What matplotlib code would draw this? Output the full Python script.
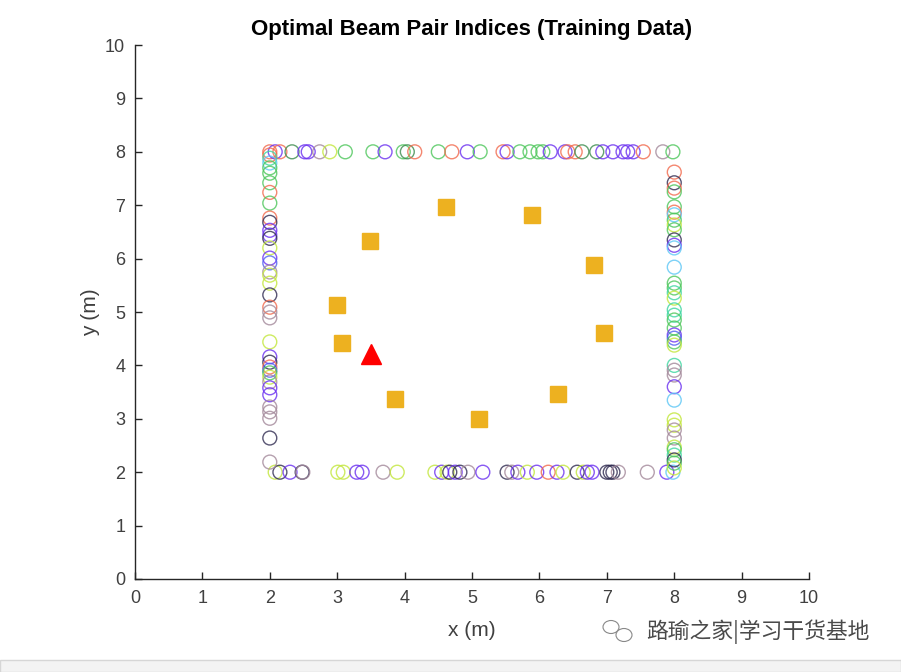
import matplotlib
matplotlib.use("Agg")
import matplotlib.pyplot as plt
from matplotlib.patches import Rectangle, Ellipse

plt.rcParams['font.family'] = ['Liberation Sans', 'DejaVu Sans']

palette = {
    'red': '#f2694c', 'purple': '#6a2ff0', 'green': '#4cc65a', 'dkgreen': '#3b8b4d',
    'mauve': '#a3889a', 'yellow': '#c2e63a', 'navy': '#2f2a50', 'ltblue': '#5cc6f5',
    'teal': '#3dd6a0', 'blue': '#4f5ff0',
}

# Receiver positions on the top edge (y = 8)
top_x = [2.00, 2.08, 2.15, 2.33, 2.52, 2.57, 2.74, 2.89, 3.12, 3.53, 3.71, 3.98, 4.04, 4.15,
         4.50, 4.70, 4.93, 5.12, 5.46, 5.52, 5.71, 5.86, 5.98, 6.05, 6.16, 6.38, 6.42, 6.53,
         6.63, 6.85, 6.94, 7.09, 7.24, 7.31, 7.39, 7.54, 7.83, 7.98]
top_c = ['red', 'purple', 'red', 'dkgreen', 'purple', 'purple', 'mauve', 'yellow', 'green',
         'green', 'purple', 'green', 'dkgreen', 'red', 'green', 'red', 'purple', 'green', 'red',
         'purple', 'green', 'green', 'green', 'green', 'purple', 'purple', 'red', 'red',
         'dkgreen', 'dkgreen', 'purple', 'purple', 'purple', 'purple', 'purple', 'red',
         'mauve', 'green']

# Bottom edge (y = 2)
bot_x = [2.08, 2.15, 2.30, 2.48, 2.49, 3.01, 3.09, 3.29, 3.37, 3.68, 3.89, 4.45, 4.55, 4.63,
         4.67, 4.75, 4.82, 4.94, 5.16, 5.52, 5.59, 5.68, 5.82, 5.96, 6.13, 6.26, 6.35, 6.56,
         6.65, 6.71, 6.78, 7.00, 7.05, 7.09, 7.17, 7.60, 7.89, 7.98]
bot_c = ['yellow', 'navy', 'purple', 'navy', 'mauve', 'yellow', 'yellow', 'purple', 'purple',
         'mauve', 'yellow', 'yellow', 'purple', 'yellow', 'navy', 'purple', 'navy', 'mauve',
         'purple', 'navy', 'mauve', 'purple', 'yellow', 'purple', 'red', 'purple', 'yellow',
         'navy', 'yellow', 'purple', 'purple', 'navy', 'navy', 'navy', 'mauve', 'mauve',
         'purple', 'ltblue']

# Left edge (x = 2)
left_y = [7.94, 7.88, 7.79, 7.70, 7.60, 7.42, 7.24, 7.04, 6.76, 6.68, 6.53, 6.44, 6.38, 6.20,
          6.01, 5.92, 5.75, 5.69, 5.54, 5.32, 5.09, 5.00, 4.89, 4.44, 4.16, 4.06, 3.97, 3.91,
          3.86, 3.78, 3.69, 3.58, 3.45, 3.22, 3.13, 3.01, 2.64, 2.19]
left_c = ['red', 'teal', 'ltblue', 'green', 'green', 'green', 'red', 'green', 'red', 'navy',
          'purple', 'purple', 'navy', 'yellow', 'purple', 'blue', 'mauve', 'yellow', 'yellow',
          'navy', 'red', 'mauve', 'mauve', 'yellow', 'purple', 'navy', 'red', 'blue', 'green',
          'yellow', 'mauve', 'purple', 'purple', 'mauve', 'mauve', 'mauve', 'navy', 'mauve']

# Right edge (x = 8)
right_y = [7.62, 7.42, 7.32, 7.25, 6.97, 6.87, 6.82, 6.72, 6.63, 6.54, 6.35, 6.25, 6.20, 5.84,
           5.54, 5.45, 5.36, 5.26, 5.04, 4.94, 4.85, 4.70, 4.57, 4.51, 4.44, 4.38, 4.00, 3.91,
           3.82, 3.60, 3.35, 2.98, 2.88, 2.79, 2.64, 2.47, 2.42, 2.32, 2.23, 2.17, 2.08]
right_c = ['red', 'navy', 'red', 'green', 'green', 'red', 'ltblue', 'green', 'yellow', 'green',
           'navy', 'purple', 'ltblue', 'ltblue', 'green', 'green', 'teal', 'yellow', 'teal',
           'teal', 'green', 'green', 'purple', 'blue', 'green', 'yellow', 'teal', 'mauve',
           'mauve', 'purple', 'ltblue', 'yellow', 'yellow', 'mauve', 'mauve', 'yellow', 'green',
           'teal', 'navy', 'green', 'yellow']

# Scatterers
scat_x = [3.49, 4.61, 5.89, 6.81, 3.00, 3.07, 6.96, 3.86, 6.28, 5.10]
scat_y = [6.33, 6.97, 6.82, 5.88, 5.13, 4.42, 4.61, 3.37, 3.46, 3.00]

# Transmitter
tx_x = [3.5]
tx_y = [4.22]

xticks = list(range(0, 11))
yticks = list(range(0, 11))

fig = plt.figure(figsize=(9.01, 6.72), dpi=100)
ax = fig.add_axes([0.1498, 0.1384, 0.7482, 0.7946])

rx_x = top_x + bot_x + [2.0] * len(left_y) + [8.0] * len(right_y)
rx_y = [8.0] * len(top_x) + [2.0] * len(bot_x) + left_y + right_y
rx_c = [palette[c] for c in top_c + bot_c + left_c + right_c]

ax.scatter(rx_x, rx_y, s=100, facecolors='none', edgecolors=rx_c, linewidths=1.0, alpha=0.8, zorder=2)
ax.plot(scat_x, scat_y, 's', color='#EDB120', markersize=11.5, linestyle='none', zorder=3)
ax.plot(tx_x, tx_y, '^', color='#ff0000', markersize=14, linestyle='none', zorder=4)

ax.set_xlim(0, 10)
ax.set_ylim(0, 10)
ax.set_xticks(xticks)
ax.set_yticks(yticks)
ax.tick_params(direction='in', length=5, width=1, colors='#262626', labelsize=13, pad=8)
ax.tick_params(axis='x', labelcolor='#404040')
ax.tick_params(axis='y', labelcolor='#404040', pad=7)
for side in ['top', 'right']:
    ax.spines[side].set_visible(False)
for side in ['left', 'bottom']:
    ax.spines[side].set_color('#262626')
    ax.spines[side].set_linewidth(1)
ax.set_xlabel('x (m)', fontsize=15, color='#404040', labelpad=10)
ax.set_ylabel('y (m)', fontsize=15, color='#404040', labelpad=4)
ax.set_title('Optimal Beam Pair Indices (Training Data)', fontsize=16, fontweight='bold',
             color='#000000', pad=7)

# Bottom gray band
fig.patches.append(Rectangle((0, 0), 1, 12 / 672, transform=fig.transFigure,
                             facecolor='#f3f3f3', edgecolor='#d6d6d6', linewidth=1))

# Watermark
fig.text(646 / 901, 1 - 632 / 672, '路瑜之家|学习干货基地', fontsize=15.7, color='#4a4a4a',
         va='center', ha='left', family=['Noto Sans CJK SC', 'DejaVu Sans'])
fig.patches.append(Ellipse((611 / 901, 1 - 627 / 672), 16 / 901, 13 / 672, transform=fig.transFigure,
                           facecolor='white', edgecolor='#888888', linewidth=0.8))
fig.patches.append(Ellipse((624 / 901, 1 - 635 / 672), 16 / 901, 13 / 672, transform=fig.transFigure,
                           facecolor='white', edgecolor='#888888', linewidth=0.8))

fig.savefig('out.png', dpi=100)
